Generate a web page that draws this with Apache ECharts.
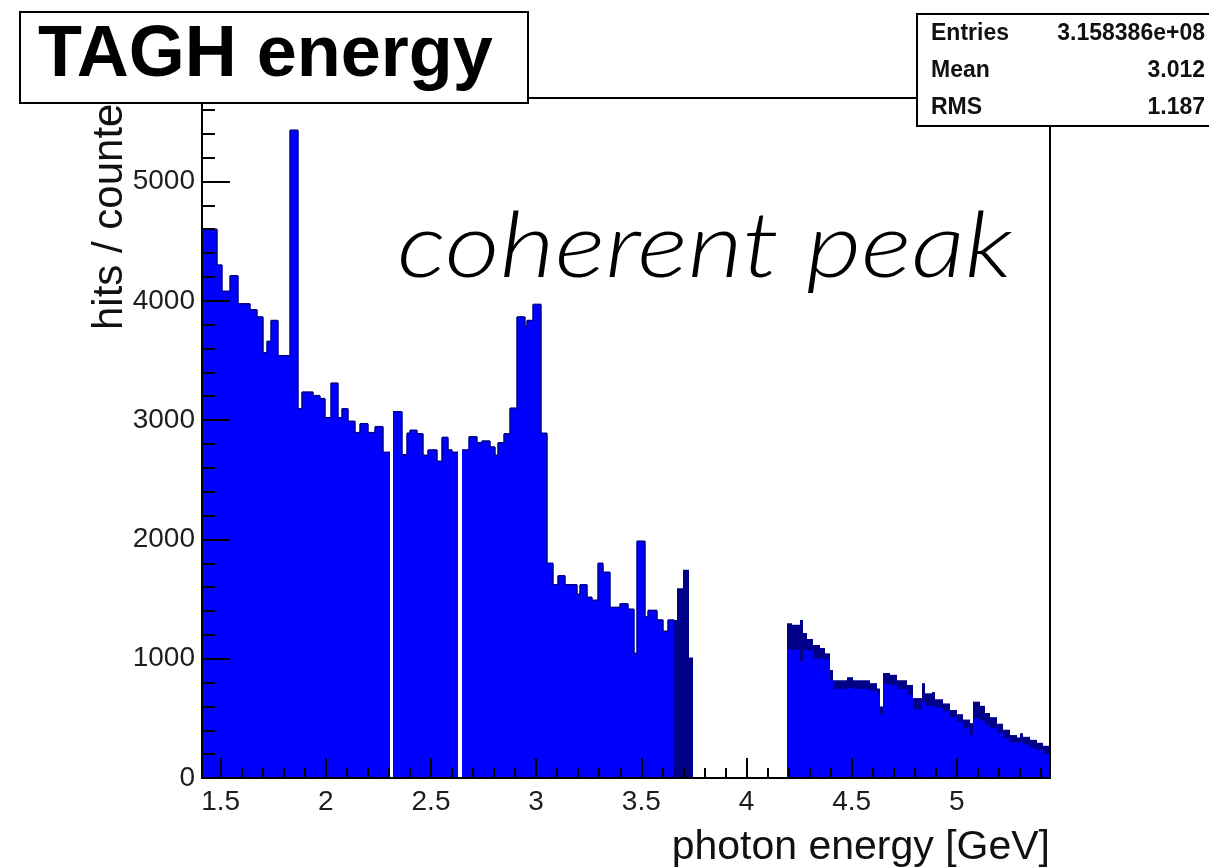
<!DOCTYPE html>
<html>
<head>
<meta charset="utf-8">
<script src="https://cdn.jsdelivr.net/npm/echarts@6/dist/echarts.min.js"></script>
<style>
  html, body { margin: 0; padding: 0; background: #ffffff; }
  #chart { width: 1209px; height: 868px; }
</style>
</head>
<body>
<div id="chart"></div>
<script>
// TAGH photon-energy histogram, hits per counter, variable-width bins (GeV)

// Wide counters: bin edges and contents (0 = dead counter)
const coarseEdges = [
  1.411, 1.481, 1.508, 1.544, 1.581, 1.639, 1.671, 1.703, 1.719, 1.739,
  1.774, 1.830, 1.869, 1.885, 1.940, 1.972, 1.996, 2.025, 2.059, 2.075,
  2.107, 2.139, 2.162, 2.202, 2.234, 2.273, 2.305, 2.321, 2.361, 2.385,
  2.400, 2.432, 2.463, 2.487, 2.527, 2.551, 2.582, 2.598, 2.630, 2.649,
  2.682, 2.717, 2.741, 2.781, 2.804, 2.820, 2.847, 2.876, 2.908, 2.947,
  2.957, 2.984, 3.022, 3.050, 3.082, 3.105, 3.137, 3.193, 3.209, 3.240,
  3.264, 3.296, 3.319, 3.351, 3.399, 3.438, 3.465, 3.478, 3.518, 3.533,
  3.573, 3.605, 3.628, 3.656
];
const coarseHits = [
  4600, 4300, 4080, 4210, 3975, 3925, 3865, 3565, 3660,
  3835, 3540, 5430, 3095, 3235, 3205, 3180, 3020, 3310, 3020,
  3095, 2990, 2895, 2970, 2895, 2945, 2730, 0, 3070, 2710,
  2890, 2915, 2885, 2705, 2750, 2655, 2855, 2750, 2730, 0,
  2750, 2860, 2810, 2825, 2775, 2705, 2810, 2885, 3100, 3865,
  3785, 3835, 3970, 2890, 1800, 1620, 1695, 1620, 1540, 1620,
  1515, 1490, 1800, 1725, 1430, 1460, 1415, 1045, 1985, 1350,
  1405, 1325, 1230, 1325
];

// Finely segmented counters: neighbouring counters alternate between a
// high and a low content, so each group is given by its high and low level
const fineEdges = [
  3.656, 3.670, 3.700, 3.728, 3.747, 4.194, 4.215, 4.255, 4.268, 4.287,
  4.318, 4.350, 4.374, 4.397, 4.413, 4.477, 4.508, 4.588, 4.619, 4.635,
  4.651, 4.683, 4.715, 4.762, 4.793, 4.833, 4.849, 4.881, 4.897, 4.936,
  4.968, 5.000, 5.031, 5.063, 5.079, 5.111, 5.134, 5.158, 5.190, 5.221,
  5.253, 5.285, 5.301, 5.317, 5.348, 5.380, 5.412, 5.4435
];
const fineHigh = [
  1325, 1590, 1745, 1010, 0, 1298, 1285, 1325, 1215,
  1165, 1115, 1090, 1045, 905, 820, 845, 820, 795, 750,
  600, 880, 865, 820, 780, 670, 795, 710, 720, 660,
  625, 570, 535, 490, 460, 640, 605, 545, 510, 455,
  405, 360, 340, 375, 345, 320, 295, 270
];
const fineLow = [
  0, 0, 0, 0, 0, 1075, 1075, 975, 1075,
  1070, 1000, 1000, 990, 820, 745, 755, 745, 730, 700,
  530, 790, 780, 745, 695, 575, 640, 605, 600, 590,
  560, 510, 470, 420, 360, 500, 480, 445, 420, 380,
  330, 300, 290, 300, 280, 250, 230, 200
];

// Axis ticks and labels
const xMajorTicks = [1.5, 2, 2.5, 3, 3.5, 4, 4.5, 5];
const xMajorLabels = ['1.5', '2', '2.5', '3', '3.5', '4', '4.5', '5'];
const yMajorTicks = [0, 1000, 2000, 3000, 4000, 5000];
const yMajorLabels = ['0', '1000', '2000', '3000', '4000', '5000'];

// Statistics box
const statNames = ['Entries', 'Mean', 'RMS'];
const statValues = ['3.158386e+08', '3.012', '1.187'];

const X_MIN = 1.411, X_MAX = 5.4435, Y_MAX = 5700;

const xMinorTicks = [];
for (let k = 16; k <= 54; k++) if (k % 5 !== 0) xMinorTicks.push(k / 10);
const yMinorTicks = [];
for (let v = 200; v <= 5600; v += 200) if (v % 1000 !== 0) yMinorTicks.push(v);

const BLUE = '#0000ff';
const NAVY = '#000088';
const OUTLINE = '#00008c';
const FONT = '"Liberation Sans", Arial, Helvetica, sans-serif';

const coarseData = coarseHits.map((h, i) => [coarseEdges[i], coarseEdges[i + 1], h]);
const fineData = fineHigh.map((h, i) => [fineEdges[i], fineEdges[i + 1], h, fineLow[i]]);

// bin edges snapped to whole pixels so neighbouring bins meet without seams
function binRect(api, x0, x1, v, color) {
  const a = api.coord([x0, v]);
  const b = api.coord([x1, 0]);
  const left = Math.round(a[0]);
  const right = Math.round(b[0]);
  return {
    type: 'rect',
    shape: { x: left, y: a[1], width: right - left, height: b[1] - a[1] },
    style: { fill: color }
  };
}

function coarseItem(params, api) {
  const i = params.dataIndex;
  const x0 = api.value(0), x1 = api.value(1), v = api.value(2);
  if (!v) return { type: 'group', children: [] };
  const yTop = api.coord([x0, v])[1];
  const left = Math.round(api.coord([x0, 0])[0]);
  const right = Math.round(api.coord([x1, 0])[0]);
  const children = [
    binRect(api, x0, x1, v, BLUE),
    {
      type: 'line',
      shape: { x1: left, y1: yTop, x2: right, y2: yTop },
      style: { stroke: OUTLINE, lineWidth: 1.5 }
    }
  ];
  const prev = i > 0 ? coarseHits[i - 1] : 0;
  if (prev > 0) {
    const yPrev = api.coord([x0, prev])[1];
    children.push({
      type: 'line',
      shape: { x1: left, y1: yPrev, x2: left, y2: yTop },
      style: { stroke: OUTLINE, lineWidth: 1.5 }
    });
  }
  return { type: 'group', children };
}

function fineItem(params, api) {
  const x0 = api.value(0), x1 = api.value(1), hi = api.value(2), lo = api.value(3);
  if (!hi) return { type: 'group', children: [] };
  const children = [binRect(api, x0, x1, hi, NAVY)];
  if (lo > 0) children.push(binRect(api, x0, x1, lo, BLUE));
  return { type: 'group', children };
}

const chart = echarts.init(document.getElementById('chart'), null, { renderer: 'canvas' });

const hidden = { show: false };
chart.setOption({
  animation: false,
  backgroundColor: '#ffffff',
  grid: { left: 202, top: 98, width: 848, height: 680, containLabel: false },
  xAxis: [
    {
      type: 'value', min: X_MIN, max: X_MAX, position: 'bottom', z: 5,
      axisLine: { show: true, onZero: false, lineStyle: { color: '#000', width: 2 } },
      axisTick: { show: true, inside: true, length: 20, customValues: xMajorTicks, lineStyle: { color: '#000', width: 2 } },
      axisLabel: {
        show: true, customValues: xMajorTicks, margin: 10,
        formatter: v => xMajorLabels[xMajorTicks.findIndex(t => Math.abs(t - v) < 1e-6)] || '',
        fontFamily: FONT, fontSize: 28, color: '#1e1e1e'
      },
      splitLine: hidden
    },
    {
      type: 'value', min: X_MIN, max: X_MAX, position: 'bottom', z: 5,
      axisLine: hidden,
      axisTick: { show: true, inside: true, length: 10, customValues: xMinorTicks, lineStyle: { color: '#000', width: 2 } },
      axisLabel: hidden, splitLine: hidden
    },
    {
      type: 'value', min: X_MIN, max: X_MAX, position: 'top', z: 5,
      axisLine: { show: true, onZero: false, lineStyle: { color: '#000', width: 2 } },
      axisTick: hidden, axisLabel: hidden, splitLine: hidden
    }
  ],
  yAxis: [
    {
      type: 'value', min: 0, max: Y_MAX, position: 'left', z: 5,
      axisLine: { show: true, onZero: false, lineStyle: { color: '#000', width: 2 } },
      axisTick: { show: true, inside: true, length: 28, customValues: yMajorTicks, lineStyle: { color: '#000', width: 2 } },
      axisLabel: {
        show: true, customValues: yMajorTicks, margin: 7,
        formatter: v => yMajorLabels[yMajorTicks.indexOf(v)] || '',
        fontFamily: FONT, fontSize: 28, color: '#1e1e1e'
      },
      splitLine: hidden
    },
    {
      type: 'value', min: 0, max: Y_MAX, position: 'left', z: 5,
      axisLine: hidden,
      axisTick: { show: true, inside: true, length: 13, customValues: yMinorTicks, lineStyle: { color: '#000', width: 2 } },
      axisLabel: hidden, splitLine: hidden
    },
    {
      type: 'value', min: 0, max: Y_MAX, position: 'right', z: 5,
      axisLine: { show: true, onZero: false, lineStyle: { color: '#000', width: 2 } },
      axisTick: hidden, axisLabel: hidden, splitLine: hidden
    }
  ],
  series: [
    {
      type: 'custom', name: 'wide counters', xAxisIndex: 0, yAxisIndex: 0,
      renderItem: coarseItem, data: coarseData, clip: true,
      encode: { x: [0, 1], y: 2 }, z: 2
    },
    {
      type: 'custom', name: 'fine counters', xAxisIndex: 0, yAxisIndex: 0,
      renderItem: fineItem, data: fineData, clip: true,
      encode: { x: [0, 1], y: [2, 3] }, z: 2
    }
  ],
  graphic: [
    // axis titles
    {
      type: 'text', x: 110, y: 330, rotation: Math.PI / 2, z: 50,
      style: { text: 'hits / counter', fontFamily: FONT, fontSize: 42, fill: '#111', align: 'left', verticalAlign: 'middle' }
    },
    {
      type: 'text', x: 1050, y: 848, z: 50,
      style: { text: 'photon energy [GeV]', fontFamily: FONT, fontSize: 41, fill: '#111', align: 'right', verticalAlign: 'middle' }
    },
    // histogram title box
    {
      type: 'rect', z: 100,
      shape: { x: 20, y: 12, width: 508, height: 91 },
      style: { fill: '#ffffff', stroke: '#000', lineWidth: 2 }
    },
    {
      type: 'text', x: 38, y: 56, z: 101,
      style: { text: 'TAGH energy', fontFamily: FONT, fontWeight: 'bold', fontSize: 72, fill: '#000', align: 'left', verticalAlign: 'middle' }
    },
    // statistics box
    {
      type: 'rect', z: 100,
      shape: { x: 917, y: 14, width: 300, height: 112 },
      style: { fill: '#ffffff', stroke: '#000', lineWidth: 2 }
    },
    ...statNames.map((n, i) => ({
      type: 'text', x: 931, y: 34 + i * 37, z: 101,
      style: { text: n, fontFamily: FONT, fontWeight: 'bold', fontSize: 23, fill: '#111', align: 'left', verticalAlign: 'middle' }
    })),
    ...statValues.map((v, i) => ({
      type: 'text', x: 1205, y: 34 + i * 37, z: 101,
      style: { text: v, fontFamily: FONT, fontWeight: 'bold', fontSize: 23, fill: '#111', align: 'right', verticalAlign: 'middle' }
    })),
    // annotation
    {
      type: 'text', x: 397, y: 248, z: 60, scaleX: 1.19,
      style: { text: 'coherent peak', fontFamily: 'Lato, "Open Sans", sans-serif', fontStyle: 'italic', fontWeight: 300, fontSize: 90, fill: '#000', align: 'left', verticalAlign: 'middle' }
    }
  ]
});
</script>
</body>
</html>
